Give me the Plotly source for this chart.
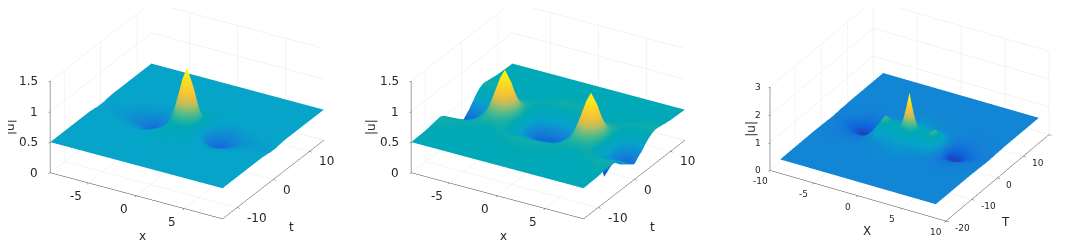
import numpy as np
import plotly.graph_objects as go

PARULA = [[0.0,"#352a87"],[0.1,"#0f5cdd"],[0.2,"#1481d6"],[0.3,"#06a4ca"],[0.4,"#00a9b4"],
          [0.5,"#4cbb8c"],[0.6,"#b8bd60"],[0.7,"#f2c238"],[0.8,"#fad32a"],[0.9,"#f9e81c"],[1.0,"#f9fb0e"]]

x1_half = [0,.5,1,1.5,2,2.5,3.5,4.5,5.5,7,9]
t1_half = [0,.5,1,1.5,2,3,4,6,9,14]
z1_quad = [
 [1.45,1.24,.88,.58,.38,.3,.27,.33,.41,.46,.48],
 [1.3,1.13,.84,.57,.39,.31,.28,.34,.41,.46,.48],
 [1.0,.92,.74,.56,.42,.34,.3,.36,.42,.46,.48],
 [.82,.77,.67,.55,.46,.38,.33,.38,.44,.47,.49],
 [.7,.67,.62,.55,.49,.43,.37,.41,.45,.48,.49],
 [.6,.59,.58,.55,.52,.48,.43,.45,.47,.49,.5],
 [.55,.55,.54,.54,.52,.5,.47,.48,.49,.5,.5],
 [.52,.52,.52,.52,.51,.51,.5,.5,.5,.5,.5],
 [.5,.5,.5,.5,.5,.5,.5,.5,.5,.5,.5],
 [.5,.5,.5,.5,.5,.5,.5,.5,.5,.5,.5],
]

x2_half = [0,1,2,3,3.5,4,4.5,5,5.5,6,7,8,9]
t2_half = [0,.5,1,2,3,4,5,6,8,10,14]
z2_quad = [
 [.2,.22,.32,.58,.82,1.08,1.23,1.08,.82,.58,.32,.22,.2],
 [.21,.23,.33,.58,.8,1.02,1.15,1.02,.8,.58,.33,.23,.21],
 [.24,.25,.34,.56,.74,.9,.98,.9,.74,.56,.34,.25,.24],
 [.3,.31,.38,.54,.62,.69,.72,.69,.62,.54,.38,.31,.3],
 [.38,.39,.44,.54,.57,.6,.61,.6,.57,.54,.44,.39,.38],
 [.46,.47,.49,.54,.55,.55,.55,.55,.55,.54,.49,.47,.46],
 [.52,.52,.53,.54,.54,.53,.52,.53,.54,.54,.53,.52,.52],
 [.55,.55,.54,.53,.52,.51,.51,.51,.52,.53,.54,.55,.55],
 [.53,.53,.52,.51,.5,.5,.5,.5,.5,.51,.52,.53,.53],
 [.51,.51,.51,.5,.5,.5,.5,.5,.5,.5,.51,.51,.51],
 [.5,.5,.5,.5,.5,.5,.5,.5,.5,.5,.5,.5,.5],
]
z2_right_edge = [.5,.51,.53,.55,.53,.49,.43,.36,.31,.27,.25,.27,.31,.36,.43,.49,.53,.55,.53,.51,.5]
# The small dark notch beside the right-hand dip: t, x, |u|
z2_notch = (-3, 7, .1)

x3_half = [0,.4,.8,1.2,2,2.8,3.5,4.5,5.5,6.5,7.5,8.85]
t3_half = [0,.4,.8,1.5,2.5,3.5,5,7,10,14,20]
z3_quad = [
 [2.15,1.55,1.0,.86,.85,1.05,.7,.16,.14,.33,.43,.47],
 [1.7,1.35,.98,.86,.85,1.05,.7,.18,.16,.34,.43,.47],
 [1.2,1.08,.92,.84,.84,1.0,.7,.22,.2,.35,.44,.47],
 [.92,.88,.84,.8,.8,.92,.66,.3,.28,.38,.45,.48],
 [.85,.82,.78,.74,.72,.78,.58,.38,.36,.42,.46,.48],
 [.72,.7,.68,.65,.64,.66,.52,.43,.41,.45,.47,.49],
 [.62,.61,.6,.58,.56,.54,.5,.46,.45,.47,.48,.49],
 [.55,.55,.54,.53,.52,.51,.5,.49,.48,.49,.49,.5],
 [.52,.52,.52,.51,.51,.5,.5,.5,.5,.5,.5,.5],
 [.5,.5,.5,.5,.5,.5,.5,.5,.5,.5,.5,.5],
 [.5,.5,.5,.5,.5,.5,.5,.5,.5,.5,.5,.5],
]

x1_ticks = [-5,0,5]
t1_ticks = [-10,0,10]
z1_ticks = [0,.5,1,1.5]
x3_ticks = [-10,-5,0,5,10]
t3_ticks = [-20,-10,0,10,20]
z3_ticks = [0,1,2,3]

def both_sides(h):
    return [-v for v in h[:0:-1]] + list(h)

def mirror(q):
    q = np.array(q, dtype=float)
    row = np.hstack([q[:, :0:-1], q])
    return np.vstack([row[:0:-1], row])

z2 = mirror(z2_quad)
z2[:, -1] = z2_right_edge
z2[both_sides(t2_half).index(z2_notch[0]), both_sides(x2_half).index(z2_notch[1])] = z2_notch[2]

FONT = "DejaVu Sans"
INK = "#404040"
GRID = "#e8e8e8"
TXT = "#262626"

def surf(x, t, z, cmin, cmax, scene):
    return go.Surface(x=both_sides(x), y=both_sides(t), z=z, cmin=cmin, cmax=cmax,
                      colorscale=PARULA, showscale=False, scene=scene,
                      lighting=dict(ambient=1, diffuse=0, specular=0, fresnel=0, roughness=1))

def axis(rng, vals):
    return dict(title=dict(text=""), range=rng, tickvals=vals, showticklabels=False,
                showgrid=True, gridcolor=GRID, gridwidth=1, showbackground=False, zeroline=False,
                showline=True, linecolor=INK, linewidth=1, ticks="outside", ticklen=3,
                tickcolor=INK, showspikes=False)

def note(x, y, z, text, size, xanchor, xshift, yshift, angle=0):
    return dict(x=x, y=y, z=z, text=text, showarrow=False, xanchor=xanchor, yanchor="middle",
                xshift=xshift, yshift=yshift, textangle=angle,
                font=dict(family=FONT, size=size, color=TXT))

def labels(xr, tr, xt, tt, zt, size, tsize, names, sh):
    xs = [note(v, tr[0], 0, str(v), size, "center", *sh["x"]) for v in xt]
    ts = [note(xr[1], v, 0, str(v), size, "left", *sh["t"]) for v in tt]
    zs = [note(xr[0], tr[0], v, f"{v:g}", size, "right", *sh["z"]) for v in zt]
    titles = [note(0, tr[0], 0, names[0], tsize, "center", *sh["xtitle"]),
              note(xr[1], 0, 0, names[1], tsize, "center", *sh["ttitle"]),
              note(xr[0], tr[0], sum(zt[-1:])/2, "|u|", tsize, "center", *sh["ztitle"], -90)]
    return xs + ts + zs + titles

def scene(dom_x, dom_y, eye, cz, a, aspect_z, xr, tr, zr, xt, tt, zt, anns):
    return dict(domain=dict(x=dom_x, y=dom_y), aspectmode="manual",
                aspectratio=dict(x=a, y=a, z=a*aspect_z),
                xaxis=axis(xr, xt), yaxis=axis(tr, tt), zaxis=axis(zr, zt), annotations=anns,
                camera=dict(eye=eye, up=dict(x=0, y=0, z=1), center=dict(x=0, y=0, z=cz),
                            projection=dict(type="orthographic")))

CZ = -.08
R = 3
eye1 = dict(x=.451*R, y=-.768*R, z=.456*R+CZ)
eye3 = dict(x=.439*R, y=-.749*R, z=.49*R+CZ)

SH1 = dict(x=(-12,-13), t=(8,-10), z=(-10,0), xtitle=(6,-40), ttitle=(18,-47), ztitle=(-40,0))
SH3 = dict(x=(-10,-11), t=(7,-7), z=(-7,0), xtitle=(9,-35), ttitle=(8,-44), ztitle=(-19,0))
XR1, TR1, ZR1 = [-9,9], [-14,14], [0,1.5]
XR3, TR3, ZR3 = [-10,10], [-20,20], [0,3]

fig = go.Figure([
    surf(x1_half, t1_half, mirror(z1_quad), .07, 1.45, "scene"),
    surf(x2_half, t2_half, z2, .05, 1.23, "scene2"),
    surf(x3_half, t3_half, mirror(z3_quad), .05, 2.15, "scene3"),
])
W, H = 1065, 241
L1 = labels(XR1, TR1, x1_ticks, t1_ticks, z1_ticks, 12, 12, ("x","t"), SH1)
L3 = labels(XR3, TR3, x3_ticks, t3_ticks, z3_ticks, 9, 12, ("X","T"), SH3)
fig.update_layout(
    width=W, height=H, margin=dict(l=0, r=0, t=0, b=0), paper_bgcolor="white", showlegend=False,
    scene=scene([9/W, 349/W], [20/H, 1], eye1, CZ, 1.81, .515, XR1, TR1, ZR1, x1_ticks, t1_ticks, z1_ticks, L1),
    scene2=scene([370/W, 710/W], [20/H, 1], eye1, CZ, 1.81, .515, XR1, TR1, ZR1, x1_ticks, t1_ticks, z1_ticks, L1),
    scene3=scene([745/W, 1058/W], [20/H, 1], eye3, CZ, 1.845, .47, XR3, TR3, ZR3, x3_ticks, t3_ticks, z3_ticks, L3),
)
fig.write_html("out.html", config=dict(displayModeBar=False))
